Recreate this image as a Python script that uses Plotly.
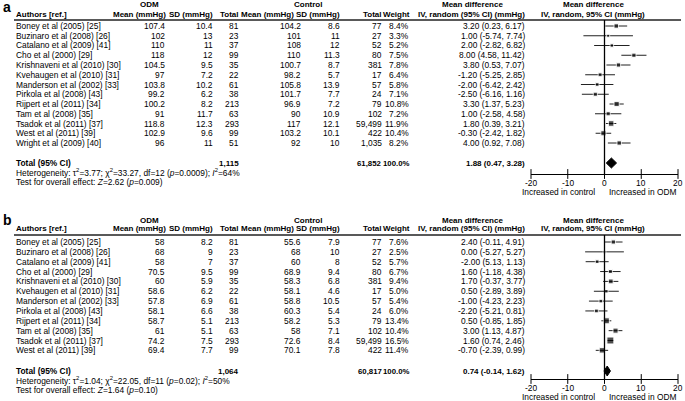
import plotly.graph_objects as go

W, H = 685, 401
FONT = "Liberation Sans, Arial, Helvetica, sans-serif"
FS = 8.4
FSB = 8.0

# ---- panel a: systolic blood pressure ----
authors_a = ["Boney et al (2005) [25]", "Buzinaro et al (2008) [26]", "Catalano et al (2009) [41]",
             "Cho et al (2000) [29]", "Krishnaveni et al (2010) [30]", "Kvehaugen et al (2010) [31]",
             "Manderson et al (2002) [33]", "Pirkola et al (2008) [43]", "Rijpert et al (2011) [34]",
             "Tam et al (2008) [35]", "Tsadok et al (2011) [37]", "West et al (2011) [39]",
             "Wright et al (2009) [40]"]
odm_mean_a = [107.4, 102, 110, 118, 104.5, 97, 103.8, 99.2, 100.2, 91, 118.8, 102.9, 96]
odm_sd_a = [10.4, 13, 11, 12, 9.5, 7.2, 10.2, 6.2, 8.2, 11.7, 12.3, 9.6, 11]
odm_n_a = [81, 23, 37, 99, 35, 22, 61, 38, 213, 63, 293, 99, 51]
ctl_mean_a = [104.2, 101, 108, 110, 100.7, 98.2, 105.8, 101.7, 96.9, 90, 117, 103.2, 92]
ctl_sd_a = [8.6, 11, 12, 11.3, 8.7, 5.7, 13.9, 7.7, 7.2, 10.9, 12.1, 10.1, 10]
ctl_n_a = [77, 27, 52, 80, 381, 17, 57, 24, 79, 102, 59499, 422, 1035]
weight_a = [8.4, 3.3, 5.2, 7.5, 7.8, 6.4, 5.8, 7.1, 10.8, 7.2, 11.9, 10.4, 8.2]
md_a = [3.20, 1.00, 2.00, 8.00, 3.80, -1.20, -2.00, -2.50, 3.30, 1.00, 1.80, -0.30, 4.00]
lo_a = [0.23, -5.74, -2.82, 4.58, 0.53, -5.25, -6.42, -6.16, 1.37, -2.58, 0.39, -2.42, 0.92]
hi_a = [6.17, 7.74, 6.82, 11.42, 7.07, 2.85, 2.42, 1.16, 5.23, 4.58, 3.21, 1.82, 7.08]
pooled_a = [1.88, 0.47, 3.28]
het_a = ("Heterogeneity: τ<sup>2</sup>=3.77; χ<sup>2</sup>=33.27, df=12 (<i>p</i>=0.0009); "
         "<i>I</i><sup>2</sup>=64%")
test_a = "Test for overall effect: <i>Z</i>=2.62 (<i>p</i>=0.009)"

# ---- panel b: diastolic blood pressure ----
authors_b = authors_a[:12]
odm_mean_b = [58, 68, 58, 70.5, 60, 58.6, 57.8, 58.1, 58.7, 61, 74.2, 69.4]
odm_sd_b = [8.2, 9, 7, 9.5, 5.9, 6.2, 6.9, 6.6, 5.1, 5.1, 7.5, 7.7]
odm_n_b = [81, 23, 37, 99, 35, 22, 61, 38, 213, 63, 293, 99]
ctl_mean_b = [55.6, 68, 60, 68.9, 58.3, 58.1, 58.8, 60.3, 58.2, 58, 72.6, 70.1]
ctl_sd_b = [7.9, 10, 8, 9.4, 6.8, 4.6, 10.5, 5.4, 5.3, 7.1, 8.4, 7.8]
ctl_n_b = [77, 27, 52, 80, 381, 17, 57, 24, 79, 102, 59499, 422]
weight_b = [7.6, 2.5, 5.7, 6.7, 9.4, 5.0, 5.4, 6.0, 13.4, 10.4, 16.5, 11.4]
md_b = [2.40, 0.00, -2.00, 1.60, 1.70, 0.50, -1.00, -2.20, 0.50, 3.00, 1.60, -0.70]
lo_b = [-0.11, -5.27, -5.13, -1.18, -0.37, -2.89, -4.23, -5.21, -0.85, 1.13, 0.74, -2.39]
hi_b = [4.91, 5.27, 1.13, 4.38, 3.77, 3.89, 2.23, 0.81, 1.85, 4.87, 2.46, 0.99]
pooled_b = [0.74, -0.14, 1.62]
het_b = ("Heterogeneity: τ<sup>2</sup>=1.04; χ<sup>2</sup>=22.05, df=11 (<i>p</i>=0.02); "
         "<i>I</i><sup>2</sup>=50%")
test_b = "Test for overall effect: <i>Z</i>=1.64 (<i>p</i>=0.10)"

tick_vals = [-20, -10, 0, 10, 20]

fig = go.Figure()
annotations = []
shapes = []


def txt(x, y, s, anchor="left", bold=False, size=None, xref="paper"):
    if size is None:
        size = FSB if bold else FS
    annotations.append(dict(
        x=x if xref != "paper" else x / W, y=1 - y / H, xref=xref, yref="paper",
        text=f"<b>{s}</b>" if bold else s, showarrow=False,
        xanchor=anchor, yanchor="middle",
        font=dict(size=size, family=FONT, color="black")))


def ci_label(m, l, h):
    return f"{m:.2f} ({l:.2f}, {h:.2f})"


def draw_panel(letter, d, g, k):
    # g holds pixel positions of the panel parts
    txt(1, g["letter"], letter, bold=True, size=14)
    txt(149, g["group"], "ODM", "center", True)
    txt(308, g["group"], "Control", "center", True)
    txt(473, g["group"], "Mean difference", "center", True)
    txt(593, g["group"], "Mean difference", "center", True)

    txt(14, g["head"], "Authors [ref.]", bold=True)
    for s, x in [("Mean (mmHg)", 168), ("SD (mmHg)", 215), ("Total", 241),
                 ("Mean (mmHg)", 296), ("SD (mmHg)", 342), ("Total", 384),
                 ("Weight", 412), ("IV, random (95% CI) (mmHg)", 527)]:
        txt(x, g["head"], s, "right", True)
    txt(593, g["head"], "IV, random, 95% CI (mmHg)", "center", True)

    shapes.append(dict(type="line", xref="paper", yref="paper",
                       x0=14 / W, x1=681 / W, y0=1 - g["line"] / H, y1=1 - g["line"] / H,
                       line=dict(color="#222", width=1.5)))

    n = len(d["authors"])
    rows = [g["row0"] + i * g["step"] for i in range(n)]
    ci_text = [ci_label(m, l, h) for m, l, h in zip(d["md"], d["lo"], d["hi"])]
    ci_text = [d["ci_override"].get(i, t) for i, t in enumerate(ci_text)]
    for i, y in enumerate(rows):
        txt(14, y, d["authors"][i])
        txt(167, y, f"{d['om'][i]:g}", "right")
        txt(215, y, f"{d['osd'][i]:g}", "right")
        txt(241, y, f"{d['on'][i]:,}", "right")
        txt(303, y, f"{d['cm'][i]:g}", "right")
        txt(342, y, f"{d['csd'][i]:g}", "right")
        txt(384, y, f"{d['cn'][i]:,}", "right")
        txt(411, y, f"{d['w'][i]:.1f}%", "right")
        txt(527, y, ci_text[i], "right")

    yt = g["total"]
    txt(14, yt, "Total (95% CI)", bold=True, size=FS)
    txt(241, yt, f"{sum(d['on']):,}", "right", True)
    txt(384, yt, f"{sum(d['cn']):,}", "right", True, 7.8)
    txt(412, yt, f"{sum(d['w']):.1f}%", "right", True, 7.8)
    txt(527, yt, ci_label(*d["pooled"]), "right", True)
    txt(14, g["het"], d["het"])
    txt(14, g["test"], d["test"])
    txt(597, g["incr"], "Increased in control", "right")
    txt(607, g["incr"], "Increased in ODM", "left")

    xa = "x" if k == 1 else f"x{k}"
    ya = "y" if k == 1 else f"y{k}"

    # tick labels under the forest axis
    for v in tick_vals:
        txt(v, g["axis"] + 8.5, f"{v}", "center", xref=xa)

    # line of no effect
    shapes.append(dict(type="line", xref=xa, yref="paper", x0=0, x1=0,
                       y0=1 - g["line"] / H, y1=1 - g["axis"] / H,
                       line=dict(color="black", width=1.3)))

    # confidence intervals
    cx, cy = [], []
    for l, h, y in zip(d["lo"], d["hi"], rows):
        cx += [l, h, None]
        cy += [y, y, None]
    fig.add_trace(go.Scatter(x=cx, y=cy, mode="lines", xaxis=xa, yaxis=ya,
                             line=dict(color="#222", width=1), hoverinfo="skip",
                             showlegend=False))
    # study squares sized by weight
    fig.add_trace(go.Scatter(x=d["md"], y=rows, mode="markers", xaxis=xa, yaxis=ya,
                             marker=dict(symbol="square", color="black",
                                         size=[2 + 0.3 * w for w in d["w"]]),
                             showlegend=False))
    # pooled diamond
    m, l, h = d["pooled"]
    fig.add_trace(go.Scatter(x=[l, m, h, m, l], y=[yt, yt - 5, yt, yt + 5, yt],
                             mode="lines", fill="toself", fillcolor="black",
                             line=dict(color="black", width=1), xaxis=xa, yaxis=ya,
                             showlegend=False))
    # tick marks crossing the axis line
    fig.add_trace(go.Scatter(x=tick_vals, y=[g["axis"]] * len(tick_vals), mode="markers",
                             xaxis=xa, yaxis=ya, cliponaxis=False, hoverinfo="skip",
                             marker=dict(symbol="line-ns", size=7,
                                         line=dict(color="black", width=1)),
                             showlegend=False))

    ax = dict(domain=[531 / W, 678 / W], range=[-20, 20], anchor=ya,
              showline=True, linecolor="black", linewidth=1,
              ticks="", showticklabels=False,
              showgrid=False, zeroline=False)
    ay = dict(domain=[1 - g["axis"] / H, 1 - g["line"] / H], range=[g["axis"], g["line"]],
              anchor=xa, visible=False, showgrid=False, zeroline=False)
    fig.update_layout(**{("xaxis" if k == 1 else f"xaxis{k}"): ax,
                         ("yaxis" if k == 1 else f"yaxis{k}"): ay})


data_a = dict(authors=authors_a, om=odm_mean_a, osd=odm_sd_a, on=odm_n_a,
              cm=ctl_mean_a, csd=ctl_sd_a, cn=ctl_n_a, w=weight_a,
              md=md_a, lo=lo_a, hi=hi_a, pooled=pooled_a, het=het_a, test=test_a,
              ci_override={})
data_b = dict(authors=authors_b, om=odm_mean_b, osd=odm_sd_b, on=odm_n_b,
              cm=ctl_mean_b, csd=ctl_sd_b, cn=ctl_n_b, w=weight_b,
              md=md_b, lo=lo_b, hi=hi_b, pooled=pooled_b, het=het_b, test=test_b,
              ci_override={2: "-2.00 (5.13, 1.13)"})  # as printed in the source

geo_a = dict(letter=7, group=4, head=14, line=20, row0=26, step=9.75,
             total=163, het=172.5, test=182, axis=174, incr=192)
geo_b = dict(letter=220, group=220, head=228.5, line=235, row0=242, step=9.85,
             total=371, het=380.5, test=390, axis=379, incr=396.5)

draw_panel("a", data_a, geo_a, 1)
draw_panel("b", data_b, geo_b, 2)

fig.update_layout(
    width=W, height=H,
    margin=dict(l=0, r=0, t=0, b=0),
    paper_bgcolor="white", plot_bgcolor="white",
    annotations=annotations, shapes=shapes,
    showlegend=False,
)

# drop the browser's default page margin so the figure sits at the top-left corner
fig.write_html("out.html", config={"displayModeBar": False},
               post_script="document.body.style.margin = '0';")
